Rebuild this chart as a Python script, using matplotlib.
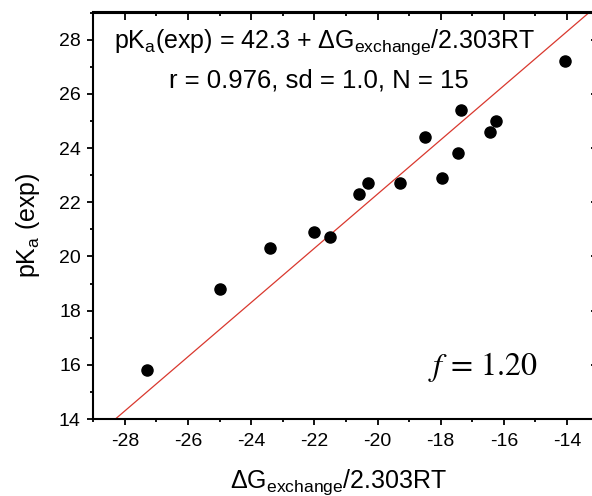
import matplotlib
matplotlib.use("Agg")
import matplotlib.pyplot as plt
from matplotlib.ticker import MultipleLocator

# ---- data ----
dG_exchange = [-27.3, -25.0, -23.4, -22.0, -21.5, -20.6, -20.3, -19.3,
               -18.5, -17.95, -17.45, -17.35, -16.45, -16.25, -14.05]
pKa_exp = [15.8, 18.8, 20.3, 20.9, 20.7, 22.3, 22.7, 22.7,
           24.4, 22.9, 23.8, 25.4, 24.6, 25.0, 27.2]
fit_intercept = 42.3
fit_slope = 1.0
xlim = (-29, -13)
ylim = (14, 29)
eq_line1 = r'pK$_\mathrm{a}$(exp) = 42.3 + $\Delta$G$_\mathrm{exchange}$/2.303RT'
eq_line2 = 'r = 0.976, sd = 1.0, N = 15'
f_label = r'$f\,=\,1.20$'
xlabel = r'$\Delta$G$_\mathrm{exchange}$/2.303RT'
ylabel = r'pK$_\mathrm{a}$ (exp)'

plt.rcParams['font.family'] = ['Liberation Sans', 'DejaVu Sans']
plt.rcParams['mathtext.fontset'] = 'custom'
plt.rcParams['mathtext.rm'] = 'Liberation Sans'
plt.rcParams['mathtext.it'] = 'Liberation Sans:italic'
plt.rcParams['mathtext.bf'] = 'Liberation Sans:bold'
plt.rcParams['axes.unicode_minus'] = False

fig = plt.figure(figsize=(5.92, 4.96), dpi=100)
ax = fig.add_axes([93.3 / 592, 77 / 496, 505.3 / 592, 406.5 / 496])

ax.axline((0, fit_intercept), slope=fit_slope, color='#d9382e', lw=0.9, zorder=2)
ax.plot(dG_exchange, pKa_exp, 'o', color='black', markersize=8, zorder=3)

ax.set_xlim(*xlim)
ax.set_ylim(*ylim)

for s in ax.spines.values():
    s.set_linewidth(1.5)

ax.xaxis.set_major_locator(MultipleLocator(2))
ax.xaxis.set_minor_locator(MultipleLocator(1))
ax.yaxis.set_major_locator(MultipleLocator(2))
ax.yaxis.set_minor_locator(MultipleLocator(1))
ax.tick_params(which='both', direction='out', width=1.3, labelsize=14)
ax.tick_params(axis='x', which='major', length=4.5, pad=5.5)
ax.tick_params(axis='y', which='major', length=4.5, pad=4.5)
ax.tick_params(which='minor', length=2.5)

secx = ax.secondary_xaxis('top')
secx.xaxis.set_major_locator(MultipleLocator(2))
secx.xaxis.set_minor_locator(MultipleLocator(1))
secx.tick_params(which='both', direction='in', width=1.3, labeltop=False)
secx.tick_params(which='major', length=6)
secx.tick_params(which='minor', length=3)
secx.spines['top'].set_linewidth(1.5)

secy = ax.secondary_yaxis('right')
secy.yaxis.set_major_locator(MultipleLocator(2))
secy.yaxis.set_minor_locator(MultipleLocator(1))
secy.tick_params(which='both', direction='in', width=1.3, labelright=False)
secy.tick_params(which='major', length=6)
secy.tick_params(which='minor', length=3)

ax.set_xlabel(xlabel, fontsize=18)
ax.xaxis.set_label_coords(0.486, -0.12)
ax.set_ylabel(ylabel, fontsize=18)
ax.yaxis.set_label_coords(-0.1015, 0.477)

ax.text(0.4585, 0.9127, eq_line1, transform=ax.transAxes, fontsize=18,
        ha='center', va='baseline')
ax.text(0.4467, 0.8167, eq_line2, transform=ax.transAxes, fontsize=18.5,
        ha='center', va='baseline')
ax.text(0.662, 0.108, f_label, transform=ax.transAxes, fontsize=23,
        ha='left', va='baseline', math_fontfamily='stix')

fig.savefig('out.png', dpi=100)
